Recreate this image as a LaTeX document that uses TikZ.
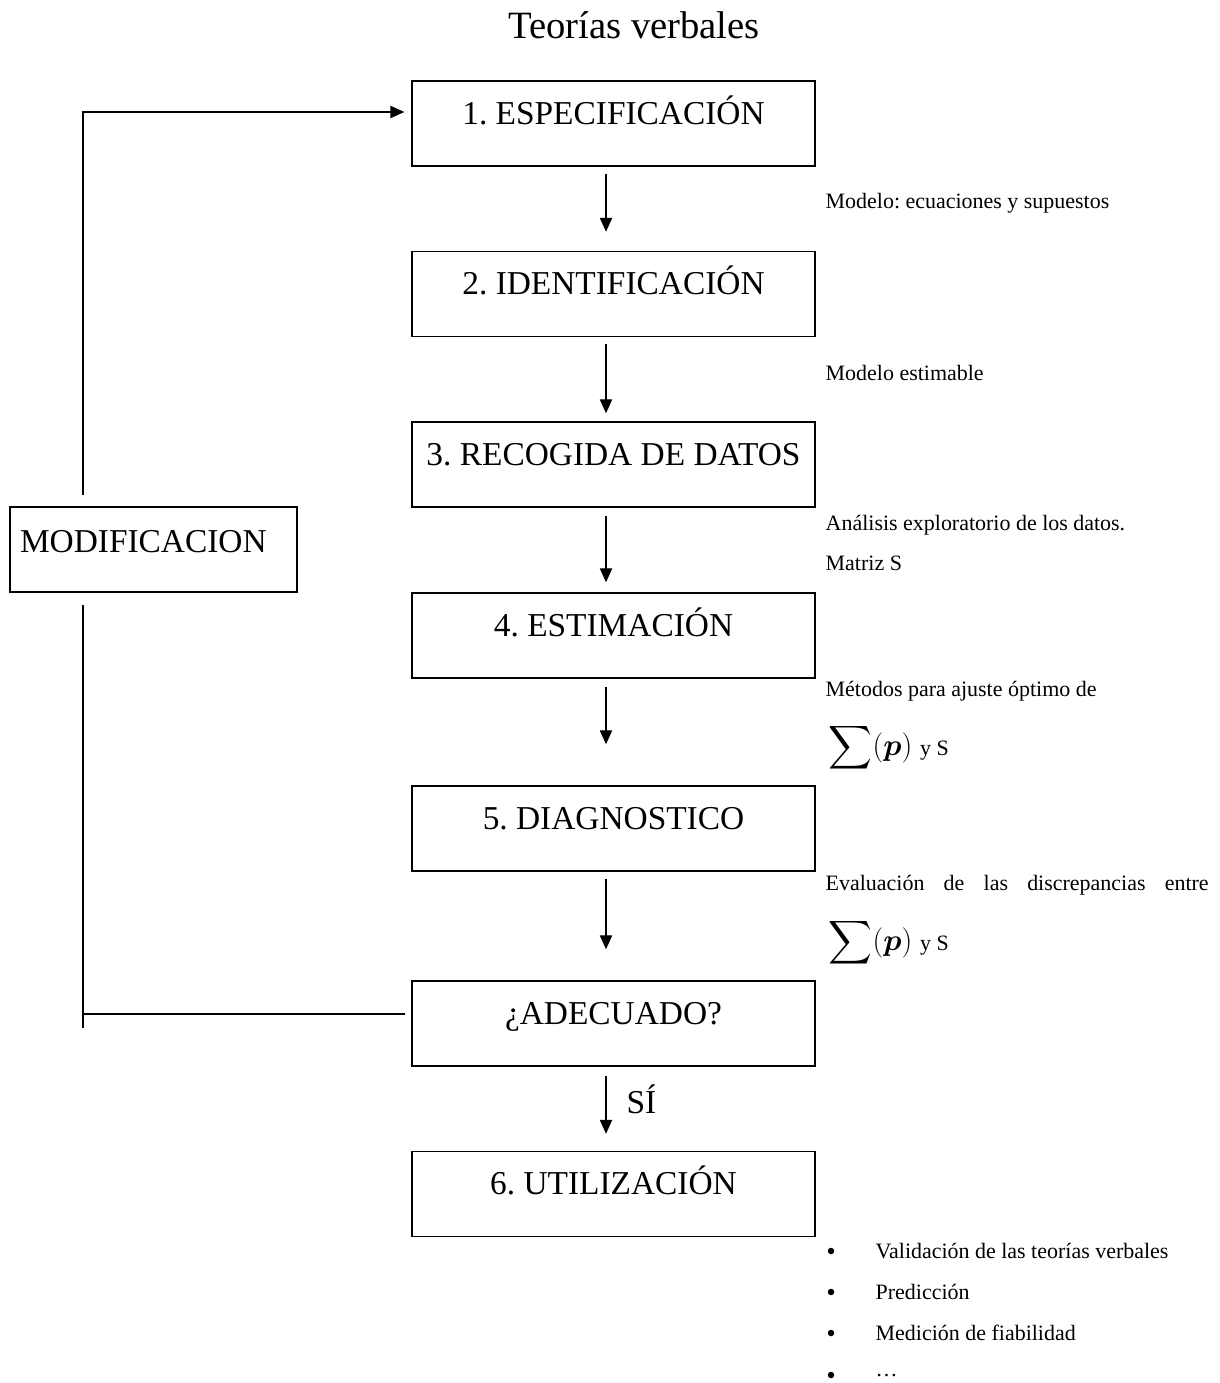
\documentclass[tikz,border=0pt]{standalone}
\usepackage{amsmath}
\usepackage{fontspec}
\setmainfont{Liberation Serif}
\usetikzlibrary{arrows.meta}
\frenchspacing

\begin{document}
\begin{tikzpicture}[x=0.02cm,y=-0.02cm,line width=0.8pt,>={Triangle[length=8pt,width=7pt]},
    box/.style={draw,rectangle,inner sep=0pt,minimum width=8.06cm,text height=0.86cm,text depth=0.84cm,font=\fontsize{19}{22}\selectfont},
    note/.style={anchor=west,inner sep=0pt,font=\fontsize{12.5}{15}\selectfont},
    sumnote/.style={anchor=west,inner sep=0pt},
    bullet/.style={circle,fill,inner sep=0pt,minimum size=0.13cm}]
      \useasboundingbox (0,0) rectangle (1220,1383);

      \node[font=\fontsize{22}{26}\selectfont] (title) at (634,25) {Teorías verbales};

      \node[box] (b1) at (613.5,123.5) {1. ESPECIFICACIÓN};
      \node[box] (b2) at (613.5,294) {2. IDENTIFICACIÓN};
      \node[box] (b3) at (613.5,464.5) {3. RECOGIDA DE DATOS};
      \node[box] (b4) at (613.5,635.5) {4. ESTIMACIÓN};
      \node[box] (b5) at (613.5,828.5) {5. DIAGNOSTICO};
      \node[box] (ade) at (613.5,1023.5) {¿ADECUADO?};
      \node[box] (b6) at (613.5,1194) {6. UTILIZACIÓN};

      \node[draw,inner xsep=0.2cm,inner ysep=0pt,text width=5.34cm,align=left,text height=0.9cm,text depth=0.8cm,font=\fontsize{19}{22}\selectfont] (modif) at (153.5,549.5) {MODIFICACION};

      \path[->]
      ([xshift=-0.15cm]b1.south) edge [shorten <=0.14cm,shorten >=0.38cm] ([xshift=-0.15cm]b2.north)
      ([xshift=-0.15cm]b2.south) edge [shorten <=0.14cm,shorten >=0.16cm] ([xshift=-0.15cm]b3.north)
      ([xshift=-0.15cm]b3.south) edge [shorten <=0.16cm,shorten >=0.2cm] ([xshift=-0.15cm]b4.north)
      ([xshift=-0.15cm]b4.south) edge [shorten <=0.16cm,shorten >=0.82cm] ([xshift=-0.15cm]b5.north)
      ([xshift=-0.15cm]b5.south) edge [shorten <=0.14cm,shorten >=0.62cm] ([xshift=-0.15cm]ade.north)
      ([xshift=-0.15cm]ade.south) edge [shorten <=0.18cm,shorten >=0.34cm]
          node[right=0.28cm,yshift=0.18cm,font=\fontsize{19}{22}\selectfont] {SÍ} ([xshift=-0.15cm]b6.north)
      ;

      % vuelta de MODIFICACION
      \coordinate (loopdown) at (83,1028);
      \coordinate (loopmid1) at (83,605);
      \coordinate (loopmid2) at (83,495);
      \draw ([shift={(-0.12cm,0.19cm)}]ade.west) -- ([yshift=0.19cm]ade.west -| loopdown);
      \draw (loopmid1) -- (loopdown);
      \draw[->,shorten >=0.14cm] (loopmid2) |- ([yshift=0.23cm]b1.west);

      \node[note] (n1) at (825,203) {Modelo: ecuaciones y supuestos};
      \node[note] (n2) at (825,373) {Modelo estimable};
      \node[note] (n3) at (825,525) {Análisis exploratorio de los datos.};
      \node[note] (n3b) at (825,563) {Matriz S};
      \node[note] (n4) at (825,691) {Métodos para ajuste óptimo de};
      \node[sumnote] (n4b) at (828,748) {\fontsize{16}{18}\selectfont$\displaystyle\sum(\boldsymbol{p})$\;\fontsize{12.5}{15}\selectfont y S};
      \node[note] (n5) at (825,885) {\makebox[7.66cm][s]{Evaluación de las discrepancias entre}};
      \node[sumnote] (n5b) at (828,943) {\fontsize{16}{18}\selectfont$\displaystyle\sum(\boldsymbol{p})$\;\fontsize{12.5}{15}\selectfont y S};

      \foreach \y/\txt [count=\i] in {1251/Validación de las teorías verbales,1292/Predicción,1333/Medición de fiabilidad,1375/…}{
        \node[bullet] (bul\i) at (831,\y) {};
        \node[note] (use\i) at (875,\y) {\txt};
      }
\end{tikzpicture}
\end{document}
